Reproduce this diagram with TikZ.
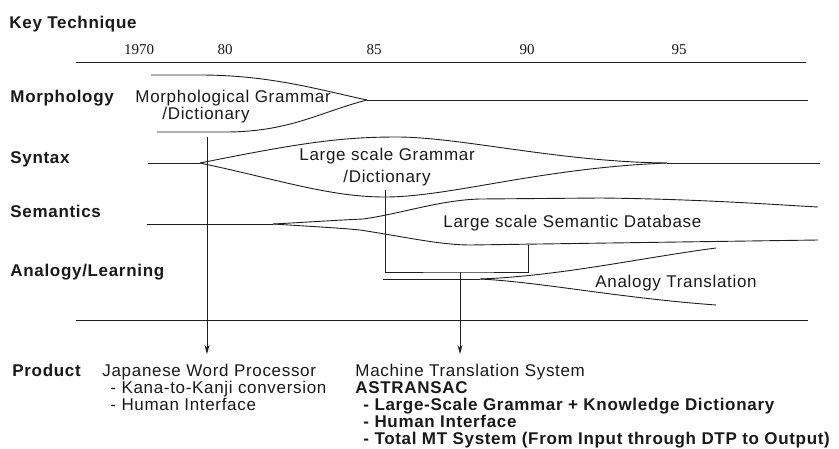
\documentclass[tikz,border=0pt]{standalone}
\usepackage{fontspec}
\setmainfont{Liberation Sans}[LetterSpace=4]
\newfontfamily\yearfont{Liberation Serif}
\usetikzlibrary{arrows.meta}
\begin{document}
\begin{tikzpicture}[x=1pt,y=-1pt,line width=0.9pt,draw=black!88,
  txt/.style={anchor=base west,inner sep=0pt,text=black!90,font=\fontsize{17}{19}\selectfont},
  hd/.style={txt,font=\fontsize{17}{19}\selectfont\bfseries},
  yr/.style={anchor=base,inner sep=0pt,text=black!90,font=\yearfont\fontsize{15}{17}\selectfont},
  arr/.style={-{Stealth[length=9pt,width=5pt]}}]
\useasboundingbox (0,0) rectangle (839,448);

% headings
\node[hd] (key) at (9,28) {Key Technique};
\node[yr] (y70) at (139,54) {1970};
\node[yr] (y80) at (225,54) {80};
\node[yr] (y85) at (374,54) {85};
\node[yr] (y90) at (527,54) {90};
\node[yr] (y95) at (679,54) {95};

\node[hd] (morph) at (10,102) {Morphology};
\node[hd] (syn) at (10,163) {Syntax};
\node[hd] (sem) at (10,217) {Semantics};
\node[hd] (ana) at (10,276) {Analogy/Learning};

% frame rules
\draw (76,62) -- (806,62);
\draw (76,320) -- (808,320);

% morphology band
\draw (151,75) -- (200,75) .. controls (270,75) and (320,90) .. (367,100);
\draw (157,132) -- (225,132) .. controls (290,132) and (320,112) .. (367,100);
\draw (367,100) -- (808,100);
\node[txt] (mg) at (135,102) {Morphological Grammar};
\node[txt] (md) at (162,119) {/Dictionary};

% syntax band
\draw (148,163) -- (200,163);
\draw (200,163) .. controls (300,143) and (340,137) .. (397,137)
      .. controls (460,137) and (560,162) .. (667,163);
\draw (200,163) .. controls (280,180) and (330,197) .. (385,197)
      .. controls (450,197) and (540,168) .. (667,163);
\draw (667,163) -- (820,163);
\node[txt] (sg) at (299,160) {Large scale Grammar};
\node[txt] (sd) at (343,182) {/Dictionary};

% semantics band
\draw (147,224) -- (273,224);
\draw (273,224) .. controls (310,222) and (340,220) .. (363,219)
      .. controls (400,214) and (440,200) .. (480,199) -- (600,198)
      .. controls (700,199) and (780,205) .. (818,207);
\draw (273,224) .. controls (320,227) and (340,228) .. (360,230)
      .. controls (400,236) and (440,245) .. (470,245) -- (818,240);
\node[txt] (sdb) at (443,227) {Large scale Semantic Database};

% analogy band
\draw (383,279) -- (480,279);
\draw (480,279) .. controls (560,276) and (640,258) .. (716,248);
\draw (480,279) .. controls (540,282) and (620,298) .. (716,305);
\node[txt] (at) at (595,287) {Analogy Translation};

% products
\node[hd] (prod) at (12,376) {Product};
\node[txt] (jwp) at (102,376) {Japanese Word Processor};
\node[txt] (jk) at (110,393) {- Kana-to-Kanji conversion};
\node[txt] (jh) at (110,410) {- Human Interface};
\node[txt] (mts) at (355,376) {Machine Translation System};
\node[hd] (ast) at (355,393) {ASTRANSAC};
\node[hd] (ml) at (363,410) {- Large-Scale Grammar + Knowledge Dictionary};
\node[hd] (mh) at (363,427) {- Human Interface};
\node[hd] (mt) at (363,444) {- Total MT System (From Input through DTP to Output)};

% connectors
\coordinate (wpTop) at (207,137);
\coordinate (wpEnd) at (207,354);
\draw[arr] (wpTop) -- (wpEnd);

\coordinate (brL) at (385,190);
\coordinate (brR) at (528,245);
\coordinate (brM) at (460,272);
\coordinate (mtEnd) at (460,354);
\draw (brL) |- (brM) -| (brR);
\draw[arr] (brM) -- (mtEnd);
\end{tikzpicture}
\end{document}
